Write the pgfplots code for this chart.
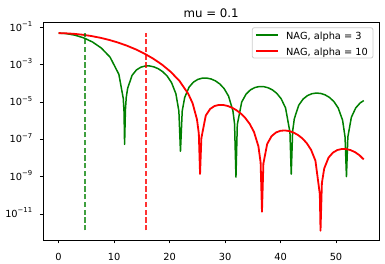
\documentclass[border=0pt]{standalone}
\usepackage{fontspec}
\setmainfont{DejaVu Sans}
\usepackage{pgfplots}
\pgfplotsset{compat=1.18}
\definecolor{mplgreen}{HTML}{008000}
\definecolor{mplred}{HTML}{FF0000}
\newcommand{\tp}[1]{10\raisebox{4.6pt}{\fontsize{6.86}{7}\selectfont −#1}}
\begin{document}
\begin{tikzpicture}
\begin{axis}[
  at={(0pt,0pt)}, anchor=south west,
  scale only axis, width=335.7pt, height=217.7pt,
  xmin=-2.75, xmax=57.75,
  ymode=log, log basis y=10,
  ymin=4e-13, ymax=0.19,
  xtick={0,10,20,30,40,50},
  ytick={1e-11,1e-9,1e-7,1e-5,1e-3,1e-1},
  yticklabels={\tp{11},\tp{9},\tp{7},\tp{5},\tp{3},\tp{1}},
  yminorticks=false, xminorticks=false,
  tick align=outside, tick pos=left,
  major tick length=3.4pt,
  every tick/.style={black, line width=0.8pt},
  axis line style={line width=0.8pt},
  /pgf/number format/assume math mode=true,
  tick label style={font=\fontsize{9.8}{11}\selectfont},
  xticklabel style={anchor=base, inner sep=0pt, yshift=-17pt},
  yticklabel style={anchor=base east, inner sep=0pt, xshift=-7.5pt, yshift=-3.6pt},
  title={mu = 0.1},
  title style={at={(0.5,1)}, anchor=base, inner sep=0pt, yshift=-1pt, font=\fontsize{11.8}{14}\selectfont},
  legend cell align=left,
  legend image code/.code={\draw[#1] (0pt,0pt) -- (22.3pt,0pt);},
  legend style={at={(1,1)}, anchor=north east, xshift=-5.7pt, yshift=-5pt,
    draw=black!20, line width=0.8pt, rounded corners=2pt, fill=white, fill opacity=0.8, text opacity=1, draw opacity=1,
    inner xsep=2.7pt, inner ysep=0pt, row sep=1pt, column sep=7pt,
    font=\fontsize{9.8}{11}\selectfont,
    nodes={inner sep=0pt, text height=12.1pt, text depth=2.6pt}},
]
\addplot[color=mplgreen, line width=1.5pt, line join=round] coordinates {
(0,0.05) (1.381,0.04697) (2.962,0.03874) (4.543,0.02767) (6.125,0.01663) (7.706,0.007907) (9.287,0.002555) (10.868,3.082e-4) (11.659,1.572e-5) (11.80,3.03e-6) (11.90,5.4e-8) (12.05,3.9e-6) (12.20,1.77e-5) (12.449,5.452e-5) (13.240,2.680e-4) (14.030,5.275e-4) (14.821,7.415e-4) (15.611,8.586e-4) (16.402,8.640e-4) (17.193,7.706e-4) (17.983,6.117e-4) (18.774,4.254e-4) (19.564,2.495e-4) (20.355,1.116e-4) (21.145,2.80e-5) (21.685,3.26e-6) (21.97,2.3e-8) (22.285,3.26e-6) (22.727,1.747e-5) (23.517,6.30e-5) (24.308,1.175e-4) (25.098,1.641e-4) (25.889,1.914e-4) (26.679,1.941e-4) (27.470,1.741e-4) (28.261,1.376e-4) (29.051,9.40e-5) (29.842,5.26e-5) (30.632,2.093e-5) (31.423,3.39e-6) (31.72,6.74e-7) (31.97,9.5e-10) (32.213,6.15e-7) (33.004,1.001e-5) (33.795,2.676e-5) (34.585,4.515e-5) (35.376,6.01e-5) (36.166,6.80e-5) (36.957,6.73e-5) (37.747,5.88e-5) (38.538,4.51e-5) (39.328,2.935e-5) (40.119,1.502e-5) (40.910,4.83e-6) (41.700,2.43e-7) (41.934,1.35e-9) (42.184,2.74e-7) (42.491,1.285e-6) (43.281,6.74e-6) (44.072,1.451e-5) (44.862,2.232e-5) (45.653,2.804e-5) (46.444,3.045e-5) (47.234,2.905e-5) (48.025,2.443e-5) (48.815,1.782e-5) (49.606,1.079e-5) (50.396,4.82e-6) (51.187,1.064e-6) (51.635,1.33e-7) (51.885,1e-9) (52.135,1.33e-7) (52.768,1.526e-6) (53.559,4.86e-6) (54.349,8.95e-6) (55.0,1.20e-5)
};
\addlegendentry{NAG, alpha = 3\hspace*{2.3pt}}
\addplot[color=mplred, line width=1.8pt, line join=round] coordinates {
(0,0.05) (1.231,0.048876) (2.812,0.045641) (4.393,0.040684) (5.975,0.034575) (7.556,0.02796) (9.137,0.021457) (10.718,0.015569) (12.299,0.010628) (13.880,0.0067773) (15.461,0.0039980) (17.043,0.0021497) (18.624,0.0010295) (20.205,4.2179e-4) (21.786,1.3630e-4) (23.367,2.8035e-5) (24.158,8.64e-6) (24.948,1.160e-6) (25.276,2.08e-7) (25.50,1.4e-9) (25.739,1.1717e-7) (26.529,1.8824e-6) (27.320,4.265e-6) (28.111,6.122e-6) (28.901,7.019e-6) (29.692,6.962e-6) (30.482,6.179e-6) (31.273,4.978e-6) (32.063,3.648e-6) (32.854,2.412e-6) (33.645,1.406e-6) (34.435,6.867e-7) (35.226,2.482e-7) (36.016,4.237e-8) (36.414,5.8e-9) (36.66,1.3e-11) (36.914,5.0e-9) (37.597,5.667e-8) (38.388,1.480e-7) (39.178,2.330e-7) (39.969,2.869e-7) (40.760,3.013e-7) (41.550,2.796e-7) (42.341,2.325e-7) (43.131,1.731e-7) (43.922,1.137e-7) (44.712,6.356e-8) (45.503,2.766e-8) (46.294,7.156e-9) (47.084,1.163e-10) (47.21,1.26e-12) (47.46,4.6e-10) (47.875,2.737e-9) (48.665,1.058e-8) (49.456,1.959e-8) (50.246,2.676e-8) (51.037,3.040e-8) (51.828,3.012e-8) (52.618,2.651e-8) (53.409,2.079e-8) (54.199,1.435e-8) (54.99,8.41e-9)
};
\addlegendentry{NAG, alpha = 10\hspace*{2.3pt}}
\addplot[forget plot, color=mplgreen, opacity=0.75, line width=1.5pt, dash pattern=on 5.4pt off 2.35pt] coordinates {(4.743,1.3e-12) (4.743,0.05)};
\addplot[forget plot, color=mplred, opacity=0.8, line width=1.7pt, dash pattern=on 5.4pt off 2.35pt] coordinates {(15.81,1.3e-12) (15.81,0.05)};
\end{axis}
\path (-43.3pt,-24pt) rectangle (341.7pt,240pt);
\end{tikzpicture}
\end{document}
